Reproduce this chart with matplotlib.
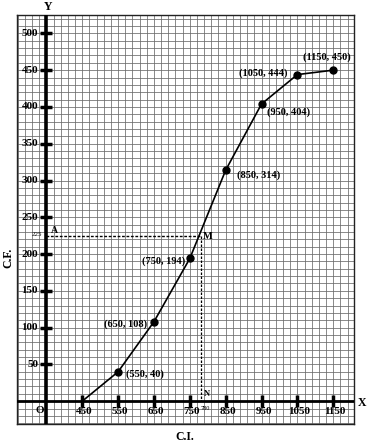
import numpy as np
import matplotlib.pyplot as plt

# ogive data (upper class limit, cumulative frequency)
ci = [450, 550, 650, 750, 850, 950, 1050, 1150]
cf = [0, 40, 108, 194, 314, 404, 444, 450]
point_labels = ["", "(550, 40)", "(650, 108)", "(750, 194)", "(850, 314)",
                "(950, 404)", "(1050, 444)", "(1150, 450)"]
x_ticks = [450, 550, 650, 750, 850, 950, 1050, 1150]
y_ticks = [50, 100, 150, 200, 250, 300, 350, 400, 450, 500]
median_cf = 225
median_ci = 780
origin_x = 350

FONT = "Liberation Serif"

fig = plt.figure(figsize=(3.7, 4.46), dpi=100)
ax = fig.add_axes([17 / 370, 22 / 446, 337 / 370, 409 / 446])
ax.set_xlim(268, 1208)
ax.set_ylim(-31, 525)

# graph paper
ax.set_xticks(np.arange(270, 1210, 20))
ax.set_yticks(np.arange(-30, 530, 10))
ax.grid(True, color="#6a6a6a", lw=0.55)
ax.tick_params(length=0, labelbottom=False, labelleft=False)
for s in ax.spines.values():
    s.set_linewidth(1.0)
    s.set_color("#222222")

# axes lines
ax.axvline(origin_x, color="k", lw=2.6, zorder=3)
ax.axhline(0, color="k", lw=2.0, zorder=3)

# tick marks
ax.plot(x_ticks, [0] * len(x_ticks), ls="none", marker="|", ms=8, mew=2.5, color="k", zorder=4)
ax.plot([origin_x] * len(y_ticks), y_ticks, ls="none", marker="_", ms=8, mew=2.5, color="k", zorder=4)

tk = dict(fontfamily=FONT, fontweight="bold", fontsize=8)
for x in x_ticks:
    ax.annotate(str(x), (x, 0), xytext=(1.5, -7.5), textcoords="offset points",
                ha="center", va="center", **tk)
for y in y_ticks:
    ax.annotate(str(y), (origin_x, y), xytext=(-6, 0), textcoords="offset points",
                ha="right", va="center", **tk)
ax.annotate("O", (origin_x, 0), xytext=(-5, -6.5), textcoords="offset points",
            ha="center", va="center", **tk)

# ogive
ax.plot(ci, cf, color="k", lw=1.2, zorder=5)
ax.plot(ci[1:], cf[1:], ls="none", marker="o", ms=5, color="k", zorder=6)

offsets = [None, (5.5, -1.4, "left"), (-5, -2, "right"), (-3, -2, "right"),
           (8, -3.6, "left"), (4.3, -5.8, "left"), (-7, 0.7, "right"), (-4.3, 9.4, "center")]
for x, y, lab, off in zip(ci, cf, point_labels, offsets):
    if off is None:
        continue
    ax.annotate(lab, (x, y), xytext=off[:2], textcoords="offset points",
                ha=off[2], va="center", fontfamily=FONT, fontweight="bold", fontsize=7.5, zorder=7)

# median construction
ax.plot([origin_x, median_ci], [median_cf, median_cf], color="k", lw=1.0, ls=(0, (2, 1.2)), zorder=4)
ax.plot([median_ci, median_ci], [median_cf, 0], color="k", lw=0.9, ls=(0, (2, 1.2)), zorder=4)
ax.annotate("A", (origin_x, median_cf), xytext=(5.5, 4), textcoords="offset points",
            ha="center", va="center", fontfamily=FONT, fontweight="bold", fontsize=7)
ax.annotate("225", (origin_x, median_cf), xytext=(-6.5, 0.5), textcoords="offset points",
            ha="center", va="center", fontfamily=FONT, fontsize=5)
ax.annotate("M", (median_ci, median_cf), xytext=(5.5, -0.5), textcoords="offset points",
            ha="center", va="center", fontfamily=FONT, fontweight="bold", fontsize=7.5)
ax.annotate("N", (median_ci, 0), xytext=(4.5, 5), textcoords="offset points",
            ha="center", va="center", fontfamily=FONT, fontweight="bold", fontsize=6)
ax.annotate("780", (median_ci, 0), xytext=(3, -5), textcoords="offset points",
            ha="center", va="center", fontfamily=FONT, fontsize=4.5)

# axis names
lab = dict(fontfamily=FONT, fontweight="bold", fontsize=8.5, ha="center", va="center")
fig.text(48 / 370, 1 - 7 / 446, "Y", **lab)
fig.text(362 / 370, 1 - 403 / 446, "X", **lab)
fig.text(185 / 370, 1 - 437 / 446, "C.I.", **lab)
fig.text(8 / 370, 1 - 258 / 446, "C.F.", rotation=90, **lab)

fig.savefig("out.png", dpi=100)
